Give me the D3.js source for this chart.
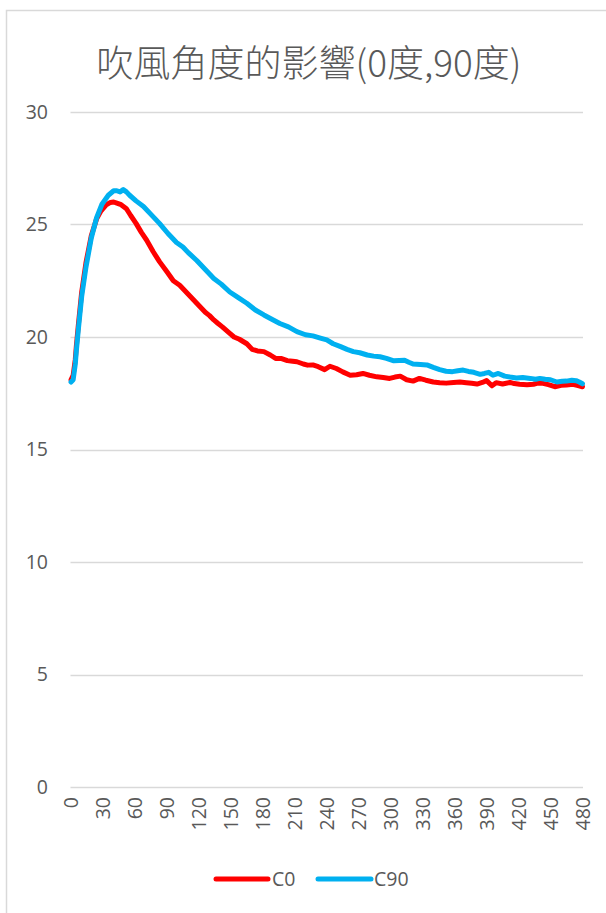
<!DOCTYPE html>
<html>
<head>
<meta charset="utf-8">
<script src="https://cdn.jsdelivr.net/npm/d3@7/dist/d3.min.js"></script>
<style>
  html, body { margin: 0; padding: 0; background: #fff; }
  svg { display: block; }
</style>
</head>
<body>
<svg id="chart" width="606" height="913"></svg>
<script>
// Time (s) and temperature readings for each fan angle
const title = "吹風角度的影響(0度,90度)";
const seriesNames = ["C0", "C90"];
const seriesColors = ["#ff0000", "#00b0f0"];

const timeC0 = [0, 2, 4, 5, 7, 10, 14, 19, 24, 28, 33, 37, 40, 43, 47, 52, 56, 61, 66, 71, 77, 83, 90, 96,
  102, 106, 110, 114, 118, 122, 126, 130, 134, 138, 142, 149, 153, 158, 165, 170, 175, 181, 187, 192, 197,
  203, 208, 212, 218, 222, 227, 232, 238, 243, 249, 255, 262, 268, 274, 280, 287, 293, 299, 304, 309, 315,
  321, 327, 333, 340, 346, 352, 359, 365, 371, 376, 381, 386, 390, 395, 399, 405, 412, 416, 421, 428, 434,
  438, 443, 448, 454, 460, 465, 471, 475, 480];
const valuesC0 = [18.1, 18.3, 19.0, 19.6, 20.6, 22.0, 23.3, 24.5, 25.25, 25.6, 25.87, 25.98, 26.0, 25.95, 25.88,
  25.7, 25.4, 25.05, 24.65, 24.3, 23.8, 23.35, 22.9, 22.5,
  22.3, 22.1, 21.9, 21.7, 21.5, 21.3, 21.1, 20.95, 20.76, 20.6, 20.45, 20.16, 20.0, 19.9, 19.7, 19.45, 19.38,
  19.35, 19.2, 19.05, 19.05, 18.95, 18.92, 18.9, 18.8, 18.75, 18.76, 18.68, 18.55, 18.7, 18.6, 18.45, 18.3,
  18.32, 18.38, 18.3, 18.23, 18.2, 18.16, 18.22, 18.26, 18.1, 18.04, 18.16, 18.08, 18.0, 17.97, 17.95, 17.98,
  18.0, 17.97, 17.94, 17.91, 17.98, 18.06, 17.83, 17.97, 17.91, 17.98, 17.93, 17.9, 17.88, 17.9, 17.95, 17.94,
  17.88, 17.79, 17.85, 17.87, 17.9, 17.85, 17.79];

const timeC90 = [0, 2, 4, 5, 7, 10, 14, 19, 24, 29, 35, 40, 43, 46, 49, 52, 55, 61, 68, 75, 83, 91, 99, 105,
  110, 118, 126, 134, 141, 149, 157, 165, 173, 181, 188, 196, 204, 212, 220, 227, 234, 240, 246, 253, 259,
  265, 271, 278, 284, 290, 296, 303, 308, 313, 317, 321, 328, 334, 340, 346, 352, 358, 363, 368, 373, 378,
  384, 388, 392, 396, 401, 407, 412, 418, 424, 431, 436, 440, 445, 450, 456, 461, 465, 470, 474, 477, 480];
const valuesC90 = [18.0, 18.1, 18.8, 19.4, 20.4, 21.8, 23.1, 24.4, 25.3, 25.9, 26.3, 26.5, 26.5, 26.45, 26.55,
  26.45, 26.3, 26.05, 25.8, 25.45, 25.05, 24.6, 24.2, 24.0,
  23.75, 23.4, 23.0, 22.6, 22.35, 22.0, 21.75, 21.5, 21.2, 20.98, 20.8, 20.6, 20.45, 20.24, 20.1, 20.05, 19.95,
  19.87, 19.7, 19.57, 19.45, 19.35, 19.3, 19.2, 19.15, 19.12, 19.05, 18.94, 18.96, 18.97, 18.88, 18.8, 18.78,
  18.76, 18.65, 18.55, 18.48, 18.46, 18.5, 18.53, 18.47, 18.43, 18.34, 18.38, 18.43, 18.3, 18.38, 18.26, 18.22,
  18.18, 18.2, 18.16, 18.12, 18.16, 18.12, 18.1, 18.0, 18.03, 18.04, 18.08, 18.06, 18.0, 17.92];

const xTicks = [0, 30, 60, 90, 120, 150, 180, 210, 240, 270, 300, 330, 360, 390, 420, 450, 480];
const yTicks = [0, 5, 10, 15, 20, 25, 30];

const svg = d3.select("#chart");
const textColor = "#595959";
const gridColor = "#d9d9d9";
const labelFont = "'Open Sans', 'Noto Sans', sans-serif";
const labelSize = "19.5px";

// chart frame
svg.append("rect")
  .attr("x", 6.5).attr("y", 10.5)
  .attr("width", 640).attr("height", 940)
  .attr("fill", "#fff").attr("stroke", gridColor).attr("stroke-width", 1.5);

// title
svg.append("text")
  .attr("x", 309).attr("y", 77)
  .attr("text-anchor", "middle")
  .attr("fill", textColor)
  .style("font-family", "'Noto Sans CJK TC', 'Noto Sans', sans-serif")
  .style("font-size", "37px")
  .style("font-weight", 300)
  .text(title);

const x = d3.scaleLinear().domain([-0.5, 480.5]).range([70.5, 583]);
const y = d3.scaleLinear().domain([0, 30]).range([787, 112]);

// horizontal gridlines
svg.append("g")
  .selectAll("line")
  .data(yTicks)
  .join("line")
  .attr("x1", 70.5).attr("x2", 583)
  .attr("y1", d => Math.round(y(d)) + 0.5).attr("y2", d => Math.round(y(d)) + 0.5)
  .attr("stroke", gridColor).attr("stroke-width", 1.5);

// y axis labels
const yAxis = d3.axisLeft(y).tickValues(yTicks).tickSize(0).tickPadding(0);
const gy = svg.append("g").attr("transform", "translate(48,0)").call(yAxis);
gy.select(".domain").remove();
gy.selectAll("text")
  .attr("fill", textColor)
  .style("font-family", labelFont)
  .style("font-size", labelSize);

// x axis labels, rotated
const xAxis = d3.axisBottom(x).tickValues(xTicks).tickSize(0).tickPadding(0).tickFormat(d3.format("d"));
const gx = svg.append("g").attr("transform", "translate(0,797)").call(xAxis);
gx.select(".domain").remove();
gx.selectAll("text")
  .attr("fill", textColor)
  .attr("transform", "rotate(-90)")
  .attr("text-anchor", "end")
  .attr("x", 0).attr("y", 0).attr("dy", "0.35em")
  .style("font-family", labelFont)
  .style("font-size", labelSize);

// series lines
const line = d3.line().x(d => x(d[0])).y(d => y(d[1])).curve(d3.curveLinear);
const series = [
  d3.zip(timeC0, valuesC0),
  d3.zip(timeC90, valuesC90)
];
series.forEach((pts, i) => {
  svg.append("path")
    .datum(pts)
    .attr("d", line)
    .attr("fill", "none")
    .attr("stroke", seriesColors[i])
    .attr("stroke-width", 5)
    .attr("stroke-linejoin", "round")
    .attr("stroke-linecap", "round");
});

// legend
const legendY = 879;
const legendItems = [
  { x1: 216, x2: 268, tx: 272 },
  { x1: 318, x2: 371, tx: 374 }
];
legendItems.forEach((it, i) => {
  svg.append("line")
    .attr("x1", it.x1).attr("x2", it.x2)
    .attr("y1", legendY).attr("y2", legendY)
    .attr("stroke", seriesColors[i]).attr("stroke-width", 5)
    .attr("stroke-linecap", "round");
  svg.append("text")
    .attr("x", it.tx).attr("y", legendY).attr("dy", "0.35em")
    .attr("fill", textColor)
    .style("font-family", labelFont)
    .style("font-size", labelSize)
    .text(seriesNames[i]);
});
</script>
</body>
</html>
